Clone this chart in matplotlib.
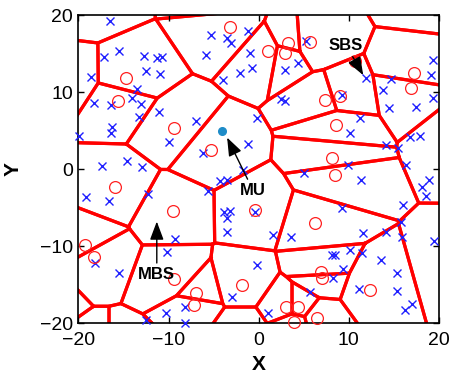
import numpy as np
import matplotlib
matplotlib.use('Agg')
import matplotlib.pyplot as plt

# small cells that span the tessellation (red circles)
sbs_x = [-3.2, -14.7, -15.6, -9.35, -5.3, 1.0, 3.3, 2.9, 5.7,
         7.4, 9.05, 8.55, 17.25, 16.9, 8.1, 8.45, -0.4, 6.3, 6.95,
         7.0, 12.3, 3.0, 4.4, 3.9, 6.5, -15.95, -9.45, -19.3, -18.3,
         -9.35, -6.9, -7.2, -1.9]
sbs_y = [18.5, 11.9, 8.9, 5.3, 2.45, 15.35, 16.4, 15.05, 16.55,
         9.0, 9.45, 5.75, 12.45, 10.5, 1.4, -0.75, -5.3, -7.05, -13.3,
         -14.1, -15.7, -17.9, -17.9, -19.9, -19.3, -2.3, -5.4, -9.85, -11.4,
         -14.2, -16.1, -17.6, -15.0]
# the SBS picked out by the label (drawn, not part of the cells)
tag_x, tag_y = 10.7, 14.1
# stations just outside the window, their cells reach into it
out_x = [-19.5, -20.9, -24.6, -18.3, -14.9, -3.6, 18.7, 22.5, 22.3, -1.9]
out_y = [21.6, 11.85, -16.6, -24.2, -24.2, 22.2, 23.2, 4.4, -13.3, -20.8]

# users (blue crosses)
ue_x = [-16.5, -5.3, -3.5, -3.1, -1.2, -17.2, -15.5, -12.7, -11.3, -10.7,
        -12.5, -10.9, -5.8, -1.0, -0.7, -2.1, -4.0, -18.6, -18.3, -16.4,
        -13.5, -14.0, -13.1, -13.3, -11.1, -16.3, -16.4, -19.9, -6.9, -10.0,
        -6.2, -1.2, -0.2, -17.4, -14.6, -12.9,
        2.9, 4.4, 5.3, 2.5, 2.9, 9.2, 11.2, 10.1, 11.9, 13.8,
        14.5, 17.4, 14.7, 19.3, 19.1, 19.3, 16.8, 17.9, 14.1, 15.5,
        9.9, 16.3, 11.4, 18.1, 18.9, 18.6, 16.0, 15.8, 15.9, 14.1,
        11.6, 9.3, 5.0, 19.5, 8.1, 8.5, 10.1, 11.5, 9.4, 8.3,
        13.6, 15.3, 15.4, 16.2, 17.0, 11.1, 5.7, 1.0,
        -4.3, -3.5, -5.6, -1.7, -3.8, -3.2, -3.5, -3.5, -0.4, 1.6,
        3.6, -0.2, -3.0, -19.2, -16.6, -12.3, -9.3, -10.2, -18.1, -15.5,
        -8.2, -10.3, -8.2, -12.5]
ue_y = [19.2, 17.4, 17.0, 16.4, 17.9, 14.6, 15.3, 14.7, 14.4, 14.6,
        12.8, 12.4, 14.8, 15.1, 13.1, 12.5, 11.6, 12.0, 8.6, 8.3,
        10.4, 9.2, 8.5, 6.8, 7.4, 5.5, 4.7, 4.3, 6.3, 3.5,
        2.1, 3.3, 6.6, 0.4, 1.1, 0.3,
        12.9, 13.8, 16.6, 9.1, 8.9, 9.6, 6.6, 4.7, 11.8, 10.3,
        8.0, 8.1, 11.7, 14.2, 12.2, 9.3, 4.2, 4.3, 3.1, 2.8,
        0.6, 0.6, -1.4, -2.3, -1.4, -3.5, -4.7, -6.8, -8.8, -8.1,
        -8.3, -5.1, -0.5, -9.3, -11.1, -11.1, -10.5, -10.9, -13.0, -14.1,
        -11.8, -13.5, -15.8, -18.3, -17.5, -15.5, -15.9, -18.7,
        -1.6, -1.4, -2.9, -0.1, -5.5, -5.4, -6.4, -8.1, -5.5, -8.5,
        -8.8, -12.4, -16.6, -3.6, -4.1, -3.2, -9.1, -10.7, -12.2, -13.5,
        -17.9, -18.7, -20.0, -19.6]

mu_x, mu_y = -4.1, 4.9
ticks = [-20, -10, 0, 10, 20]


def clip_poly(poly, n, c):
    # keep the part of the polygon where n.p <= c
    out = []
    m = len(poly)
    for k in range(m):
        p, q = poly[k], poly[(k + 1) % m]
        dp, dq = n @ p - c, n @ q - c
        if dp <= 0:
            out.append(p)
        if dp * dq < 0:
            t = dp / (dp - dq)
            out.append(p + t * (q - p))
    return out


def voronoi_cells(pts, box=80.0):
    cells = []
    for i, p in enumerate(pts):
        poly = [np.array(v) for v in [(-box, -box), (box, -box), (box, box), (-box, box)]]
        for j, q in enumerate(pts):
            if i != j:
                poly = clip_poly(poly, q - p, (q @ q - p @ p) / 2)
        cells.append(np.array(poly))
    return cells


plt.rcParams['font.family'] = ['Liberation Sans', 'DejaVu Sans']

fig = plt.figure(figsize=(4.53, 3.78), dpi=100)
ax = fig.add_axes([0.173, 0.145, 0.796, 0.815])

gen = np.column_stack([np.r_[sbs_x, out_x], np.r_[sbs_y, out_y]]).astype(float)
for cell in voronoi_cells(gen):
    xs = np.append(cell[:, 0], cell[0, 0])
    ys = np.append(cell[:, 1], cell[0, 1])
    ax.plot(xs, ys, color='#ff0000', lw=2.3, solid_joinstyle='round', zorder=1)

ax.plot(ue_x, ue_y, 'x', color='#2020ff', ms=5.5, mew=1.0, clip_on=False, zorder=3)
ax.plot(sbs_x + [tag_x], sbs_y + [tag_y], 'o', mfc='none', mec='#ff2020', ms=8.5, mew=0.9,
        clip_on=False, zorder=3)
ax.plot(mu_x, mu_y, 'o', color='#1e8cc8', ms=5.5, zorder=4)

arr = dict(arrowstyle='-|>,head_length=0.8,head_width=0.3', color='k', lw=1.0,
           mutation_scale=14, shrinkA=1, shrinkB=0)
ax.annotate('SBS', xy=(11.6, 12.2), xytext=(9.7, 16.1), fontsize=12, fontweight='bold',
            ha='center', va='center', arrowprops=arr, zorder=5)
ax.annotate('MU', xy=(-3.5, 4.1), xytext=(-0.6, -2.8), fontsize=12, fontweight='bold',
            ha='center', va='center', arrowprops=arr, zorder=5)
ax.annotate('MBS', xy=(-11.3, -6.8), xytext=(-11.3, -13.7), fontsize=12, fontweight='bold',
            ha='center', va='center', arrowprops=arr, zorder=5)

ax.set_xlim(-20, 20)
ax.set_ylim(-20, 20)
ax.set_xticks(ticks)
ax.set_yticks(ticks)
ax.tick_params(direction='in', top=True, right=True, length=4, width=1, labelsize=14)
ax.tick_params(axis='x', pad=6)
ax.tick_params(axis='y', pad=4)
for s in ax.spines.values():
    s.set_linewidth(1.2)
ax.set_xlabel('X', fontsize=15, fontweight='bold', labelpad=5)
ax.set_ylabel('Y', fontsize=15, fontweight='bold', labelpad=12)

fig.savefig('out.png', dpi=100)
